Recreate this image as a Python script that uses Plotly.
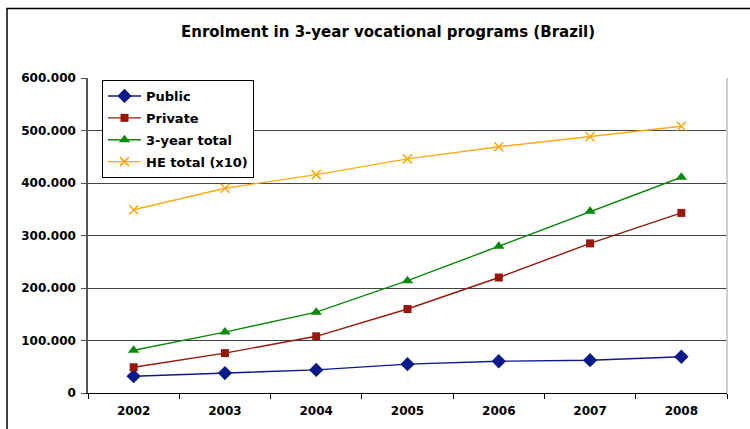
import plotly.graph_objects as go

years = ["2002", "2003", "2004", "2005", "2006", "2007", "2008"]
public = [32000, 38000, 44000, 55000, 60500, 62500, 69000]
private = [49000, 76000, 108000, 160000, 220000, 285000, 343000]
total3 = [81500, 116000, 154000, 214000, 279500, 346000, 411000]
he_total = [349000, 390000, 416000, 446000, 469000, 488000, 508000]

series = [
    ("Public", public, "#0A1A8A", "diamond", 11),
    ("Private", private, "#99160A", "square", 8),
    ("3-year total", total3, "#0A8A0A", "triangle-up", 10),
    ("HE total (x10)", he_total, "#FFAA10", "x-thin", 9),
]

fig = go.Figure()
for i, (name, vals, col, sym, sz) in enumerate(series):
    marker = dict(symbol=sym, size=sz, color=col, line=dict(color=col, width=1.6 if sym == "x-thin" else 0))
    fig.add_trace(go.Scatter(
        x=years, y=vals, name=name, mode="lines+markers",
        line=dict(color=col, width=1.4), marker=marker,
        legendgroup=str(i),
    ))

W, H = 750, 429
L, R, T, B = 88, 727, 78, 393

def px(x):
    return (x - L) / (R - L)

def py(y):
    return (B - y) / (B - T)

fig.update_layout(
    width=W, height=H,
    margin=dict(l=L, r=W - R, t=T, b=H - B),
    paper_bgcolor="white", plot_bgcolor="white",
    separators=",.",
    showlegend=True,
    title=dict(
        text="Enrolment in 3-year vocational programs (Brazil)",
        x=388 / W, xanchor="center", xref="container",
        y=1 - 32 / H, yanchor="middle", yref="container",
        font=dict(family="DejaVu Sans", size=15, color="black", weight="bold"),
    ),
    legend=dict(
        x=px(102), y=py(80), xanchor="left", yanchor="top",
        bgcolor="white", bordercolor="black", borderwidth=1,
        font=dict(family="DejaVu Sans", size=13, color="black", weight="bold"),
        tracegroupgap=2, itemwidth=33,
    ),
    xaxis=dict(
        type="category", range=[-0.5, 6.5],
        showline=True, linecolor="black", linewidth=1,
        ticks="outside", tickson="boundaries", ticklen=5, tickcolor="black",
        showgrid=False,
        tickfont=dict(family="DejaVu Sans", size=12, color="black", weight="bold"),
        ticklabelstandoff=7,
    ),
    yaxis=dict(
        range=[0, 600000], dtick=100000, tickformat=",d",
        showline=True, linecolor="#555555", linewidth=1.5,
        ticks="outside", ticklen=5, tickcolor="#555555",
        showgrid=True, gridcolor="#444444", gridwidth=1,
        zeroline=False,
        tickfont=dict(family="DejaVu Sans", size=12, color="black", weight="bold"),
        ticklabelstandoff=3,
    ),
    shapes=[
        dict(type="line", xref="paper", yref="paper", x0=1, x1=1, y0=0, y1=1,
             line=dict(color="#C0C0C0", width=1.5)),
        dict(type="rect", xref="paper", yref="paper",
             x0=px(7), x1=px(760), y0=py(440), y1=py(8.5),
             line=dict(color="black", width=1.5), layer="below"),
    ],
)

fig.write_html(
    "out.html",
    config={"displayModeBar": False},
    post_script="document.body.style.margin='0';document.body.style.padding='0';",
)
